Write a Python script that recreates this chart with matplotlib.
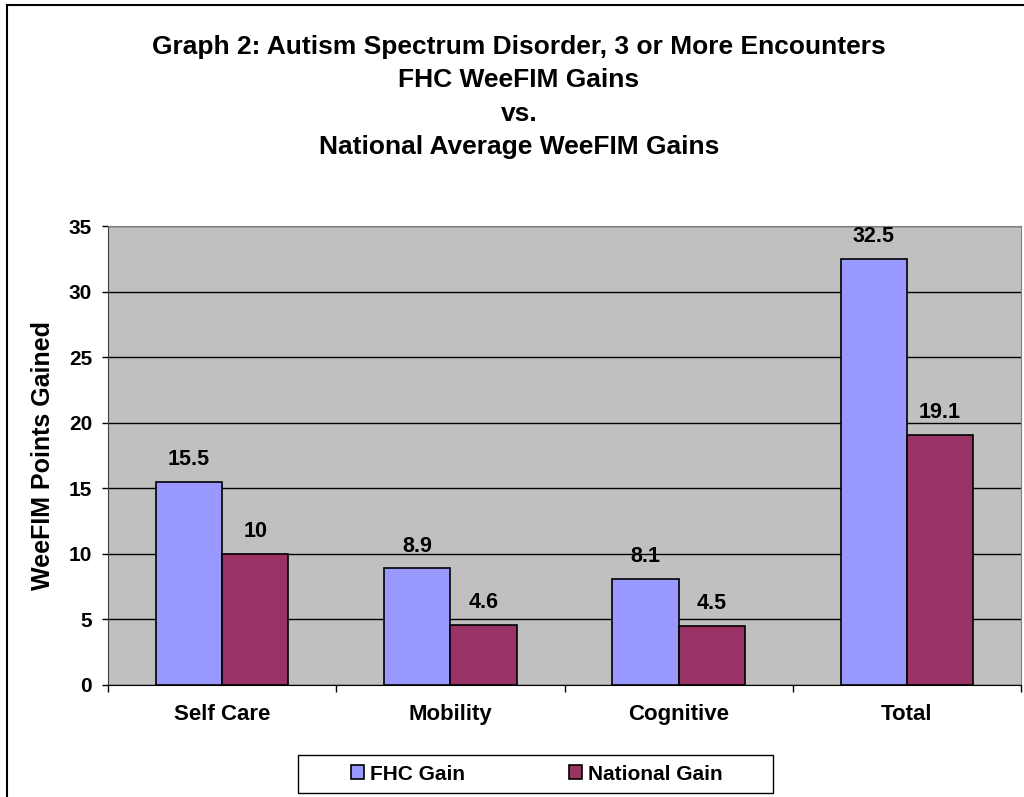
import matplotlib.pyplot as plt
import numpy as np
from matplotlib.lines import Line2D
from matplotlib.patches import Rectangle

plt.rcParams['font.family'] = ['Liberation Sans', 'DejaVu Sans']
plt.rcParams['font.weight'] = 'bold'

categories = ['Self Care', 'Mobility', 'Cognitive', 'Total']
fhc_gain = [15.5, 8.9, 8.1, 32.5]
national_gain = [10, 4.6, 4.5, 19.1]
fhc_labels = ['15.5', '8.9', '8.1', '32.5']
national_labels = ['10', '4.6', '4.5', '19.1']

title_lines = ['Graph 2: Autism Spectrum Disorder, 3 or More Encounters',
               'FHC WeeFIM Gains',
               'vs.',
               'National Average WeeFIM Gains']

W, H = 1024, 797
fig = plt.figure(figsize=(W/100, H/100), dpi=100)
ax = fig.add_axes([108/W, 1 - 685/H, (1021 - 108)/W, (685 - 226)/H])
ax.set_facecolor('#C0C0C0')

x = np.arange(len(categories))
bw = 0.29
b1 = ax.bar(x - bw/2, fhc_gain, bw, color='#9999FF', edgecolor='black', linewidth=1.2,
            label='FHC Gain', zorder=3)
b2 = ax.bar(x + bw/2, national_gain, bw, color='#993366', edgecolor='black', linewidth=1.2,
            label='National Gain', zorder=3)

for rects, labs in ((b1, fhc_labels), (b2, national_labels)):
    for r, lab in zip(rects, labs):
        ax.annotate(lab, (r.get_x() + r.get_width()/2, r.get_height()),
                    xytext=(0, 12), textcoords='offset points',
                    ha='center', va='baseline', fontsize=15.5, fontweight='bold')

ax.set_ylim(0, 35)
ax.set_xlim(-0.5, len(categories) - 0.5)
ax.set_yticks(np.arange(0, 36, 5))
ax.yaxis.grid(True, color='black', linewidth=1)
ax.set_axisbelow(True)
ax.tick_params(axis='y', labelsize=15, length=4.5, width=1, pad=7)

ax.set_xticks(np.arange(-0.5, len(categories), 1))
ax.set_xticklabels([])
ax.set_xticks(x, minor=True)
ax.set_xticklabels(categories, minor=True, fontsize=16, fontweight='bold')
ax.tick_params(axis='x', which='major', length=5, width=1)
ax.tick_params(axis='x', which='minor', length=0, pad=14)

ax.spines['top'].set_color('#808080')
ax.spines['right'].set_color('#808080')
ax.spines['left'].set_color('#404040')
ax.spines['bottom'].set_color('black')

ax.set_ylabel('WeeFIM Points Gained', fontsize=18, fontweight='bold')
ax.yaxis.set_label_coords(-0.058, 0.5)

title_y = [47, 80, 114, 147]
for line, yy in zip(title_lines, title_y):
    fig.text(519/W, 1 - yy/H, line, ha='center', va='center', fontsize=19, fontweight='bold')

# legend box drawn separately so its width matches the reference
fig.add_artist(Rectangle((298/W, 1 - 793/H), (773 - 298)/W, 38/H, transform=fig.transFigure,
                         facecolor='white', edgecolor='black', linewidth=1))
leg = fig.legend(handles=[b1, b2], loc='center', ncol=2,
                 bbox_to_anchor=(537/W, 1 - 774/H),
                 fontsize=15, frameon=False,
                 handlelength=0.62, handleheight=0.62, handletextpad=0.3,
                 columnspacing=5.0, borderaxespad=0)

fig.add_artist(Line2D([7/W, 7/W], [0, 1 - 5/H], color='black', linewidth=1.5,
                      transform=fig.transFigure))
fig.add_artist(Line2D([7/W, 1], [1 - 5/H, 1 - 5/H], color='black', linewidth=1.5,
                      transform=fig.transFigure))

fig.savefig('out.png', dpi=100, facecolor='white')
